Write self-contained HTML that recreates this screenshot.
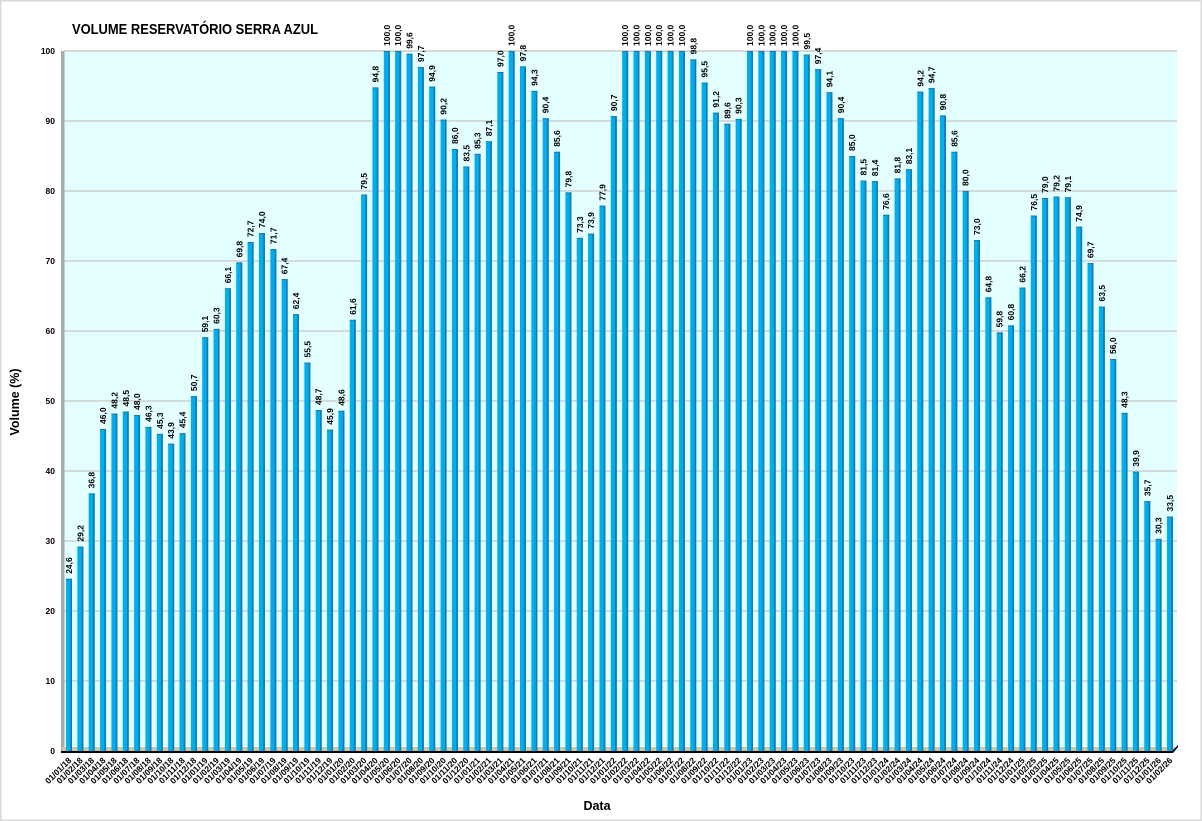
<!DOCTYPE html>
<html><head><meta charset="utf-8"><style>
html,body{margin:0;padding:0;background:#fff;}
svg{display:block;font-family:"Liberation Sans",Arial,sans-serif;}
</style></head><body>
<svg id="c" width="1202" height="821" viewBox="0 0 1202 821" xmlns="http://www.w3.org/2000/svg">
<rect x="0.5" y="0.5" width="1201" height="820" fill="#fff" stroke="#d9d9d9" stroke-width="2"/>
<text x="72" y="34" font-size="15" font-weight="bold" textLength="246" lengthAdjust="spacingAndGlyphs" fill="#000">VOLUME RESERVATÓRIO SERRA AZUL</text>
<rect x="64" y="51" width="1113" height="700" fill="#e3ffff"/>
<line x1="64" y1="51" x2="1177" y2="51" stroke="#d4d8d8" stroke-width="2"/>
<g id="grid" stroke="#cfcfcf" stroke-width="1.5"></g>
<rect x="61" y="51" width="3.5" height="700" fill="#a3acac"/>
<rect x="62" y="747" width="1113" height="4" fill="#cfc8a8"/>
<polygon points="61,751 1172,751 1178,745 1178,747 1173,753 61,753" fill="#000"/>
<g id="bars"></g>
<g id="yl" font-size="8.5" font-weight="bold" text-anchor="end" fill="#000"></g>
<g id="vl" font-size="8.5" font-weight="bold" fill="#000"></g>
<g id="xl" font-size="8.5" font-weight="bold" text-anchor="end" fill="#000"></g>
<text x="597" y="810" font-size="12.5" font-weight="bold" text-anchor="middle">Data</text>
<text transform="translate(19,402) rotate(-90)" font-size="12.5" font-weight="bold" text-anchor="middle">Volume (%)</text>
</svg>
<script>
var vals=[24.6,29.2,36.8,46.0,48.2,48.5,48.0,46.3,45.3,43.9,45.4,50.7,
59.1,60.3,66.1,69.8,72.7,74.0,71.7,67.4,62.4,55.5,48.7,45.9,
48.6,61.6,79.5,94.8,100,100,99.6,97.7,94.9,90.2,86.0,83.5,
85.3,87.1,97.0,100,97.8,94.3,90.4,85.6,79.8,73.3,73.9,77.9,
90.7,100,100,100,100,100,100,98.8,95.5,91.2,89.6,90.3,
100,100,100,100,100,99.5,97.4,94.1,90.4,85.0,81.5,81.4,
76.6,81.8,83.1,94.2,94.7,90.8,85.6,80.0,73.0,64.8,59.8,60.8,
66.2,76.5,79.0,79.2,79.1,74.9,69.7,63.5,56.0,48.3,39.9,35.7,
30.3,33.5];
var NS="http://www.w3.org/2000/svg";
function el(t,a,p,txt){var e=document.createElementNS(NS,t);for(var k in a)e.setAttribute(k,a[k]);if(txt!==undefined)e.textContent=txt;p.appendChild(e);return e;}
var g=document.getElementById('grid'),yl=document.getElementById('yl');
function Y(v){return 751-v*7;}
for(var v=0;v<=100;v+=10){
  if(v>0&&v<100)el('line',{x1:64,y1:Y(v),x2:1177,y2:Y(v)},g);
  el('text',{x:55,y:Y(v)+3},yl,String(v));
}
var bars=document.getElementById('bars'),vl=document.getElementById('vl'),xl=document.getElementById('xl');
for(var i=0;i<vals.length;i++){
  var x=66+i*11.35,v=vals[i],y=Y(v),h=751-y;
  el('rect',{x:x.toFixed(2),y:y.toFixed(2),width:6,height:h.toFixed(2),fill:'#00aeef'},bars);
  el('rect',{x:(x+4.3).toFixed(2),y:y.toFixed(2),width:1.7,height:h.toFixed(2),fill:'#1b7aa6'},bars);
  el('rect',{x:x.toFixed(2),y:y.toFixed(2),width:6,height:1,fill:'#1b7aa6'},bars);
  var s=(v===100?'100,0':v.toFixed(1).replace('.',','));
  var cx=x+3+3;
  el('text',{transform:'translate('+cx.toFixed(2)+','+(y-5).toFixed(2)+') rotate(-90)'},vl,s);
  var m=(i%12)+1,yr=18+Math.floor(i/12);
  var lab='01/'+(m<10?'0'+m:m)+'/'+yr;
  el('text',{transform:'translate('+(x+6).toFixed(2)+',761) rotate(-45)'},xl,lab);
}
</script>
</body></html>
